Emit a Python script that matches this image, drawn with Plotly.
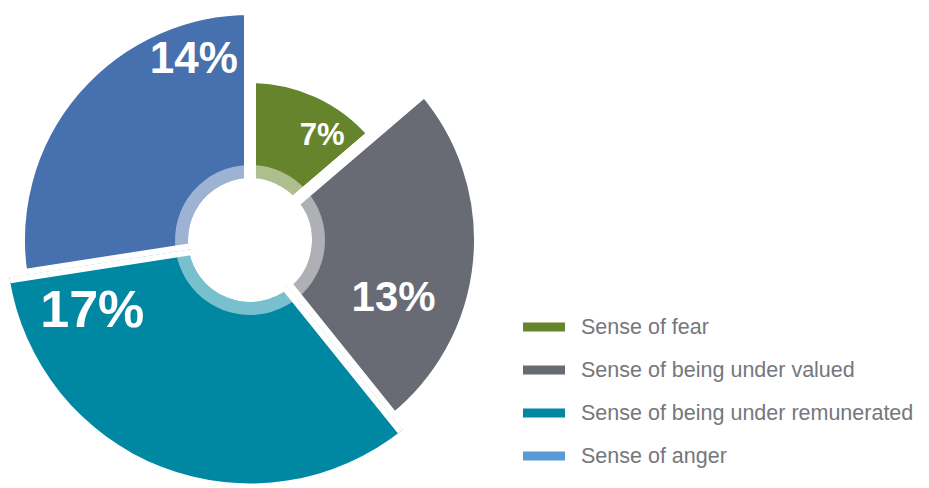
import math
import plotly.graph_objects as go

categories = ["Sense of fear", "Sense of being under valued",
              "Sense of being under remunerated", "Sense of anger"]
values = [7, 13, 17, 14]                 # percent
radius = [157, 224, 250, 225]            # outer radius of each slice (chart units = px)
slice_colors = ["#66842B", "#686A74", "#0088A3", "#4670AE"]
legend_colors = ["#66842B", "#686A74", "#0088A3", "#5B9BD5"]

# label placement (radius, angle in degrees clockwise from top)
label_r = [126, 156, 174, 187]
label_theta = [35, 113, 245, 342.5]
label_size = [31, 42, 52, 44]

GAP = 12          # white gap between slices (px)
INNER = 62        # inner white circle radius
RING = 13         # lighter inner ring thickness

# page body has an 8px margin: figure is drawn 8px in from the window corner
OFF = 8
W, H = 929 - OFF, 488 - OFF
CX, CY = 250 - OFF, 240 - OFF    # chart centre inside the figure
RPX = min(CX, CY)                # main polar radius (px) that fits in the figure

total = sum(values)
widths, mids, starts = [], [], []
cum = 0
for v in values:
    starts.append(cum / total * 360)
    widths.append(v / total * 360)
    mids.append((cum + v / 2) / total * 360)
    cum += v

BIG = 2   # index of the slice that reaches beyond the main circle (own sector subplot)


def sector_bbox(s0, s1):
    pts = [(0.0, 0.0), (math.cos(math.radians(s0)), math.sin(math.radians(s0))),
           (math.cos(math.radians(s1)), math.sin(math.radians(s1)))]
    a = math.ceil(s0 / 90) * 90
    while a <= s1:
        pts.append((round(math.cos(math.radians(a))), round(math.sin(math.radians(a)))))
        a += 90
    xs, ys = [p[0] for p in pts], [p[1] for p in pts]
    return min(xs), min(ys), max(xs), max(ys)


fig = go.Figure()


def add_slices(idx, subplot):
    fig.add_trace(go.Barpolar(
        r=[radius[i] + GAP / 2 - (INNER - GAP / 2) for i in idx],
        base=[INNER - GAP / 2] * len(idx),
        theta=[mids[i] for i in idx], width=[widths[i] for i in idx],
        marker=dict(color=[slice_colors[i] for i in idx],
                    line=dict(color="white", width=GAP)),
        hoverinfo="skip", showlegend=False, subplot=subplot,
    ))
    fig.add_trace(go.Barpolar(
        r=[RING] * len(idx), base=[INNER] * len(idx),
        theta=[mids[i] for i in idx], width=[widths[i] for i in idx],
        marker=dict(color="rgba(255,255,255,0.47)", line=dict(width=0)),
        hoverinfo="skip", showlegend=False, subplot=subplot,
    ))
    fig.add_trace(go.Scatterpolar(
        r=[label_r[i] for i in idx], theta=[label_theta[i] for i in idx],
        mode="text", text=[f"{values[i]}%" for i in idx],
        textfont=dict(family="Liberation Sans, Arial, sans-serif",
                      size=[label_size[i] for i in idx],
                      color="white", weight="bold"),
        cliponaxis=False, hoverinfo="skip", showlegend=False, subplot=subplot,
    ))


add_slices([i for i in range(len(values)) if i != BIG], "polar")
add_slices([BIG], "polar2")

# sector of the big slice, in standard (counter-clockwise from east) degrees
s0 = (90 - (starts[BIG] + widths[BIG])) % 360
s1 = s0 + widths[BIG]
x0b, y0b, x1b, y1b = sector_bbox(s0, s1)
R2 = min(CX / -x0b if x0b < 0 else 1e9, (H - CY) / -y0b if y0b < 0 else 1e9,
         radius[BIG])
R2 = math.floor(R2) - 0.5

common_ang = dict(visible=False, rotation=90, direction="clockwise", showgrid=False)
fig.update_layout(
    width=W, height=H,
    margin=dict(l=0, r=0, t=0, b=0),
    paper_bgcolor="white", plot_bgcolor="white",
    polar=dict(
        domain=dict(x=[(CX - RPX) / W, (CX + RPX) / W],
                    y=[1 - (CY + RPX) / H, 1 - (CY - RPX) / H]),
        bgcolor="white",
        radialaxis=dict(range=[0, RPX], visible=False, showgrid=False),
        angularaxis=common_ang,
    ),
    polar2=dict(
        sector=[s0, s1],
        domain=dict(x=[(CX + x0b * R2) / W, (CX + x1b * R2) / W],
                    y=[1 - (CY - y0b * R2) / H, 1 - (CY - y1b * R2) / H]),
        bgcolor="rgba(0,0,0,0)",
        radialaxis=dict(range=[0, R2], visible=False, showgrid=False),
        angularaxis=common_ang,
    ),
)

# legend drawn as swatches + text
for i, (name, col) in enumerate(zip(categories, legend_colors)):
    yc = 327 + 43 * i - OFF
    fig.add_shape(type="rect", xref="paper", yref="paper",
                  x0=(523 - OFF) / W, x1=(565 - OFF) / W,
                  y0=1 - (yc + 4.5) / H, y1=1 - (yc - 4.5) / H,
                  fillcolor=col, line=dict(width=0))
    fig.add_annotation(x=(579 - OFF) / W, y=1 - yc / H, xref="paper", yref="paper",
                       text=name, showarrow=False, xanchor="left", yanchor="middle",
                       font=dict(family="Liberation Sans, Arial, sans-serif",
                                 size=21.5, color="#76777B"))

fig.write_html("out.html")
